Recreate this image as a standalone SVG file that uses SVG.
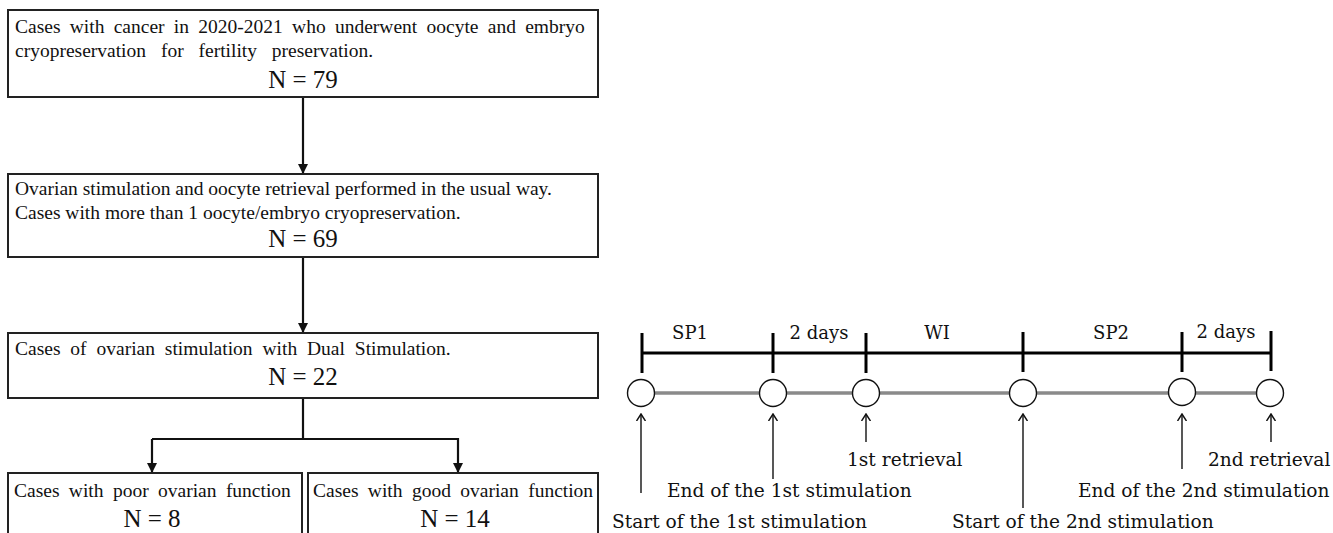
<svg xmlns="http://www.w3.org/2000/svg" width="1333" height="533" viewBox="0 0 1333 533">
<style>
.box{fill:#fff;stroke:#222;stroke-width:2}
.t{font-family:"Liberation Serif","Times New Roman",serif;font-size:19.5px;fill:#111}
.n{font-family:"Liberation Serif","Times New Roman",serif;font-size:25px;fill:#111;text-anchor:middle}
.flow{fill:none;stroke:#111;stroke-width:2.2}
.tl{font-family:"DejaVu Serif",serif;font-size:18px;fill:#111}
.tb{font-family:"DejaVu Serif",serif;font-size:18.6px;fill:#111}
.mid{text-anchor:middle}
.bar{stroke:#000;stroke-width:3;fill:none}
.gray{stroke:#8a8a8a;stroke-width:3.5}
.circ{fill:#fff;stroke:#111;stroke-width:1.4}
.up{stroke:#111;stroke-width:1.4;fill:none}
</style>
<defs>
<marker id="ah" markerUnits="userSpaceOnUse" markerWidth="10" markerHeight="10" refX="10" refY="5" orient="auto">
<path d="M0,0 L10,5 L0,10 z" fill="#111"/>
</marker>
<marker id="oa" markerUnits="userSpaceOnUse" markerWidth="8" markerHeight="10" refX="7" refY="5" orient="auto">
<path d="M0,0.5 L7,5 L0,9.5" fill="none" stroke="#111" stroke-width="1.5"/>
</marker>
</defs>

<g id="connectors">
<line class="flow" x1="303" y1="97" x2="303" y2="174" marker-end="url(#ah)"/>
<line class="flow" x1="303" y1="257" x2="303" y2="333" marker-end="url(#ah)"/>
<polyline class="flow" points="303,398 303,439"/>
<polyline class="flow" points="152,439 458,439 458,473" marker-end="url(#ah)"/>
<line class="flow" x1="152" y1="439" x2="152" y2="473" marker-end="url(#ah)"/>
</g>

<g id="box1">
<rect class="box" x="8" y="10" width="590" height="87"/>
<text class="t" x="15" y="33" word-spacing="4.4">Cases with cancer in 2020-2021 who underwent oocyte and embryo</text>
<text class="t" x="15" y="57" word-spacing="10">cryopreservation for fertility preservation.</text>
<text class="n" x="303" y="88">N = 79</text>
</g>

<g id="box2">
<rect class="box" x="8" y="174" width="590" height="83"/>
<text class="t" x="15" y="195">Ovarian stimulation and oocyte retrieval performed in the usual way.</text>
<text class="t" x="15" y="219">Cases with more than 1 oocyte/embryo cryopreservation.</text>
<text class="n" x="303" y="247">N = 69</text>
</g>

<g id="box3">
<rect class="box" x="8" y="333" width="590" height="65"/>
<text class="t" x="15" y="355" word-spacing="5">Cases of ovarian stimulation with Dual Stimulation.</text>
<text class="n" x="303" y="385">N = 22</text>
</g>

<g id="box4">
<rect class="box" x="8" y="473" width="294" height="70"/>
<text class="t" x="14" y="497" word-spacing="4.5">Cases with poor ovarian function</text>
<text class="n" x="152" y="527">N = 8</text>
</g>

<g id="box5">
<rect class="box" x="308" y="473" width="290" height="70"/>
<text class="t" x="313" y="497" word-spacing="4.5">Cases with good ovarian function</text>
<text class="n" x="455" y="527">N = 14</text>
</g>

<g id="timeline">
<line class="bar" x1="641" y1="353" x2="1272" y2="353"/>
<line class="bar" x1="642" y1="333" x2="642" y2="373"/>
<line class="bar" x1="773" y1="333" x2="773" y2="373"/>
<line class="bar" x1="866" y1="333" x2="866" y2="373"/>
<line class="bar" x1="1023" y1="332" x2="1023" y2="372"/>
<line class="bar" x1="1182" y1="332" x2="1182" y2="372"/>
<line class="bar" x1="1271" y1="331" x2="1271" y2="371"/>
<text class="tl mid" x="690" y="339">SP1</text>
<text class="tl mid" x="819" y="339">2 days</text>
<text class="tl mid" x="937" y="339">WI</text>
<text class="tl mid" x="1111" y="339">SP2</text>
<text class="tl mid" x="1226" y="338">2 days</text>
<line class="gray" x1="641" y1="393" x2="1270" y2="393"/>
<circle class="circ" cx="641" cy="393" r="13.5"/>
<circle class="circ" cx="773" cy="393" r="13.5"/>
<circle class="circ" cx="866" cy="393" r="13.5"/>
<circle class="circ" cx="1023" cy="393" r="13.5"/>
<circle class="circ" cx="1182" cy="392" r="13.5"/>
<circle class="circ" cx="1270" cy="393" r="13.5"/>
</g>

<g id="pointers">
<line class="up" x1="641" y1="493" x2="641" y2="414" marker-end="url(#oa)"/>
<line class="up" x1="773" y1="479" x2="773" y2="414" marker-end="url(#oa)"/>
<line class="up" x1="866" y1="442" x2="866" y2="414" marker-end="url(#oa)"/>
<line class="up" x1="1023" y1="508" x2="1023" y2="414" marker-end="url(#oa)"/>
<line class="up" x1="1182" y1="469" x2="1182" y2="414" marker-end="url(#oa)"/>
<line class="up" x1="1271" y1="442" x2="1271" y2="414" marker-end="url(#oa)"/>
<text class="tb" x="847" y="466">1st retrieval</text>
<text class="tb" x="667" y="497">End of the 1st stimulation</text>
<text class="tb" x="612" y="528">Start of the 1st stimulation</text>
<text class="tb" x="1208" y="466">2nd retrieval</text>
<text class="tb" x="1078" y="497">End of the 2nd stimulation</text>
<text class="tb" x="952" y="528">Start of the 2nd stimulation</text>
</g>
</svg>
